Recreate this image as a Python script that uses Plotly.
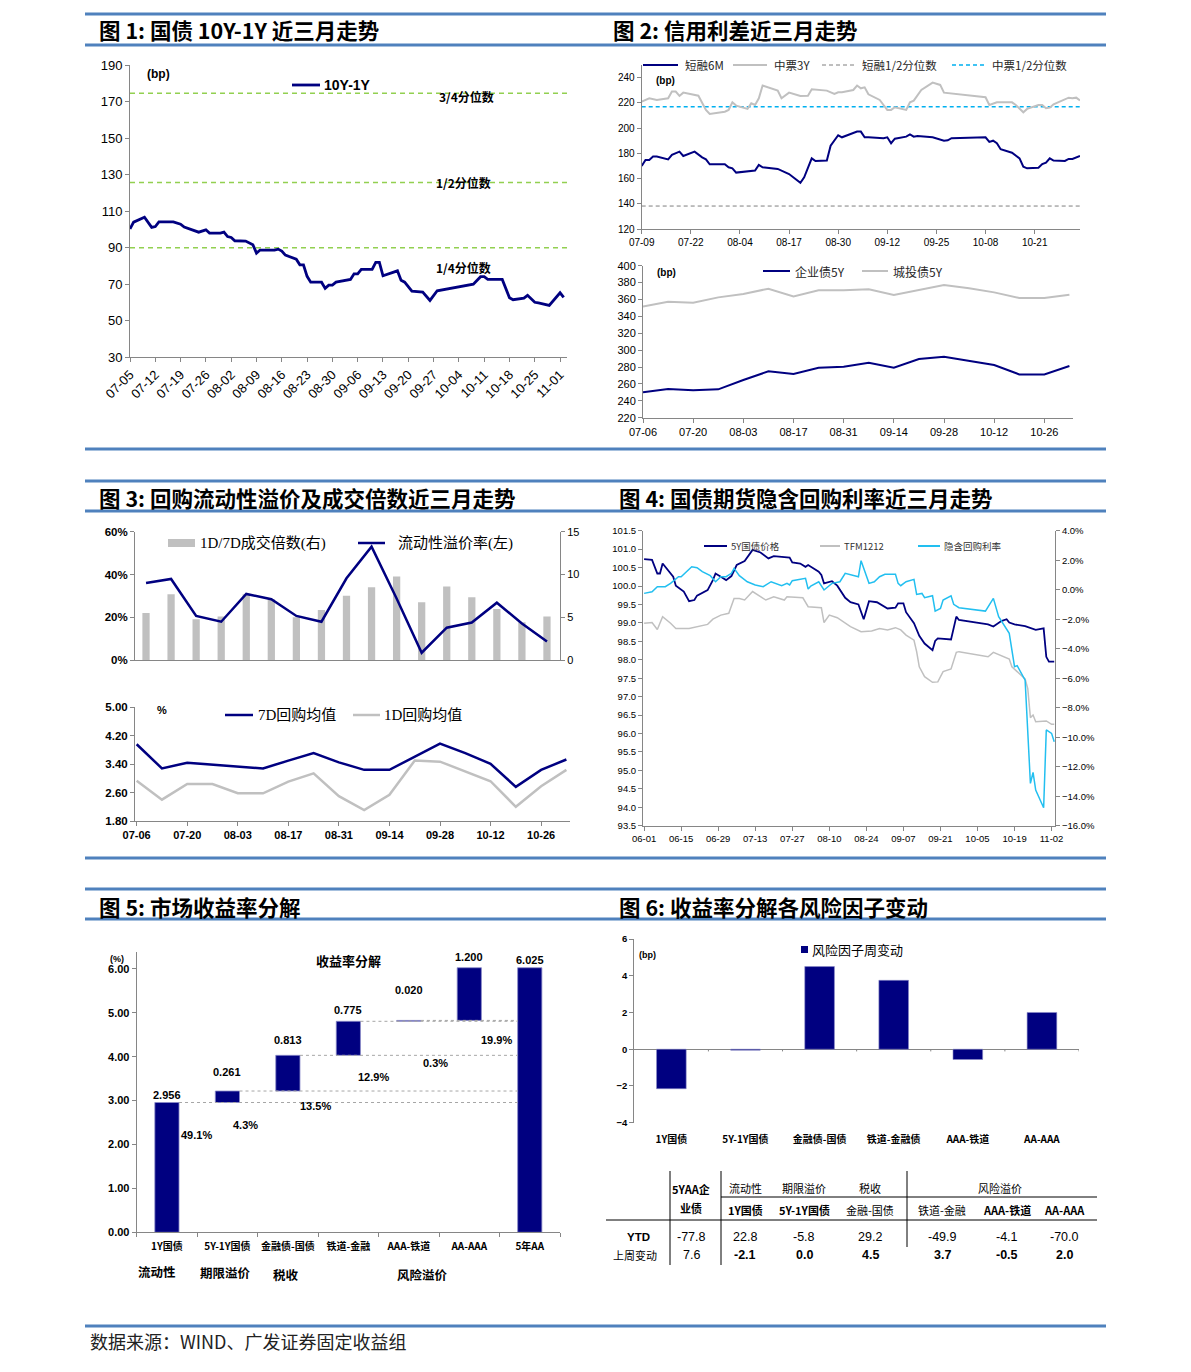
import plotly.graph_objects as go

# page is 1191x1372; the browser adds an 8px body margin, so the figure is 8px smaller
PAGE_W, PAGE_H = 1191, 1372
OFF = 8
W, H = PAGE_W - OFF, PAGE_H - OFF
YR = '2012-'
NAVY = '#000080'
GRAY = '#c0c0c0'
CYAN = '#22bff0'
GREEN = '#92d050'
AX = '#868686'
BLUE = '#4f81bd'
SANS = 'Liberation Sans, Arial, Noto Sans CJK SC'
NARROW = 'Liberation Sans Narrow, Liberation Sans, Arial, Noto Sans CJK SC'
CJK = 'Noto Sans CJK SC'
SERIF = 'Liberation Serif, Noto Sans CJK SC'

# ---------------- Chart 1 data ----------------
c1_dates = ['07-05', '07-06', '07-09', '07-11', '07-12', '07-13', '07-17', '07-19', '07-20', '07-24',
            '07-26', '07-27', '07-30', '07-31', '08-01', '08-02', '08-03', '08-06', '08-08', '08-09',
            '08-10', '08-14', '08-15', '08-16', '08-17', '08-20', '08-21', '08-22', '08-23', '08-24',
            '08-27', '08-28', '08-29', '08-30', '08-31', '09-04', '09-05', '09-06', '09-07', '09-10',
            '09-11', '09-12', '09-13', '09-17', '09-18', '09-19', '09-21', '09-24', '09-26', '09-28',
            '10-08', '10-10', '10-11', '10-12', '10-16', '10-18', '10-19', '10-22', '10-23', '10-25',
            '10-26', '10-29', '11-01', '11-02']
c1_vals = [100.2, 103.9, 106.6, 101.0, 101.5, 104.0, 104.0, 102.8, 101.2, 98.4,
           99.7, 97.9, 97.9, 98.4, 96.0, 95.5, 93.7, 93.5, 91.5, 86.9,
           88.6, 88.6, 89.1, 88.0, 85.8, 83.6, 80.5, 80.5, 74.2, 71.0,
           71.0, 67.6, 69.4, 69.4, 71.0, 72.5, 75.6, 75.6, 78.0, 78.0,
           81.8, 81.8, 74.5, 77.2, 72.0, 71.0, 66.1, 65.6, 61.0, 66.3,
           69.9, 74.0, 74.0, 72.5, 72.5, 62.5, 61.4, 62.3, 63.8, 60.0,
           59.6, 58.3, 65.2, 62.7]
c1_ticks = ['07-05', '07-12', '07-19', '07-26', '08-02', '08-09', '08-16', '08-23', '08-30',
            '09-06', '09-13', '09-20', '09-27', '10-04', '10-11', '10-18', '10-25', '11-01']
c1_q_vals = [174.5, 125.6, 89.8]
c1_q_labels = ['3/4分位数', '1/2分位数', '1/4分位数']

# ---------------- Chart 2 top data ----------------
c2a_d_6m = ['07-09', '07-10', '07-11', '07-12', '07-13', '07-16', '07-17', '07-19', '07-20', '07-23',
            '07-25', '07-26', '07-27', '07-31', '08-01', '08-02', '08-03', '08-08', '08-09', '08-10',
            '08-14', '08-16', '08-17', '08-20', '08-21', '08-23', '08-24', '08-27', '08-28', '08-30',
            '08-31', '09-04', '09-05', '09-06', '09-07', '09-11', '09-12', '09-13', '09-14', '09-17',
            '09-18', '09-19', '09-20', '09-24', '09-27', '09-28', '09-29', '10-08', '10-09', '10-10',
            '10-11', '10-12', '10-15', '10-17', '10-18', '10-19', '10-22', '10-23', '10-24', '10-25',
            '10-26', '10-29', '10-30', '10-31', '11-02']
c2a_6m = [170.0, 174.7, 174.7, 177.4, 177.4, 175.2, 178.7, 181.3, 177.9, 181.3,
          176.8, 175.2, 171.3, 171.3, 168.9, 168.1, 164.7, 166.3, 170.8, 168.9,
          167.6, 164.7, 163.6, 156.7, 161.0, 176.0, 173.9, 174.2, 186.0, 194.3,
          192.7, 197.2, 197.2, 192.7, 192.7, 191.9, 192.7, 188.0, 191.6, 193.2,
          195.0, 193.2, 193.7, 192.7, 190.0, 190.3, 192.0, 192.7, 189.0, 190.0,
          188.0, 183.2, 180.5, 176.0, 169.4, 168.1, 168.6, 171.5, 172.6, 176.0,
          174.2, 173.9, 175.5, 175.5, 177.9]
c2a_d_3y = ['07-09', '07-11', '07-13', '07-16', '07-17', '07-18', '07-19', '07-20', '07-24', '07-26',
            '07-27', '07-31', '08-01', '08-02', '08-03', '08-06', '08-07', '08-08', '08-09', '08-10',
            '08-14', '08-15', '08-17', '08-20', '08-22', '08-23', '08-27', '08-29', '08-30', '08-31',
            '09-03', '09-04', '09-05', '09-06', '09-07', '09-10', '09-11', '09-12', '09-13', '09-14',
            '09-17', '09-18', '09-19', '09-21', '09-24', '09-26', '09-27', '10-08', '10-09', '10-11',
            '10-15', '10-16', '10-18', '10-19', '10-22', '10-23', '10-24', '10-25', '10-26', '10-30',
            '10-31', '11-01', '11-02']
c2a_3y = [221.0, 223.6, 222.3, 223.6, 228.9, 228.9, 225.5, 228.1, 225.7, 214.4,
          211.2, 213.0, 214.4, 220.4, 217.8, 215.2, 219.6, 218.3, 223.6, 233.7,
          229.7, 223.6, 228.1, 225.5, 225.7, 230.7, 229.7, 227.0, 228.4, 228.4,
          230.2, 233.7, 231.5, 232.3, 226.8, 222.3, 218.3, 214.4, 214.4, 216.5,
          214.4, 220.4, 221.8, 230.2, 236.0, 234.2, 228.1, 224.4, 218.3, 220.4,
          220.4, 218.3, 212.5, 215.2, 218.3, 218.3, 215.7, 216.2, 218.9, 224.1,
          223.6, 224.1, 221.8]
c2a_q_6m = 138.2
c2a_q_3y = 217.0
c2a_ticks = ['07-09', '07-22', '08-04', '08-17', '08-30', '09-12', '09-25', '10-08', '10-21']
c2a_names = ['短融6M', '中票3Y', '短融1/2分位数', '中票1/2分位数']

# ---------------- Chart 2 bottom data ----------------
wk_dates = ['07-06', '07-13', '07-20', '07-27', '08-03', '08-10', '08-17', '08-24', '08-31',
            '09-07', '09-14', '09-21', '09-28', '10-05', '10-12', '10-19', '10-26', '11-02']
c2b_corp = [250.0, 254.0, 252.4, 253.6, 264.6, 274.9, 271.7, 279.2, 280.4,
            285.1, 279.2, 289.5, 292.2, 287.1, 282.4, 271.3, 271.3, 281.2]
c2b_city = [351.8, 357.4, 356.2, 362.5, 366.4, 372.8, 363.7, 370.8, 370.8,
            372.0, 365.3, 371.2, 377.1, 373.2, 368.4, 361.7, 361.7, 365.7]
c2b_ticks = ['07-06', '07-20', '08-03', '08-17', '08-31', '09-14', '09-28', '10-12', '10-26']
c2b_names = ['企业债5Y', '城投债5Y']

# ---------------- Chart 3 top data ----------------
c3a_bar = [5.5, 7.7, 4.75, 5.1, 7.7, 7.1, 5.0, 5.85, 7.5, 8.5, 9.75, 6.75, 8.6, 7.35, 5.95, 4.4, 5.1]
c3a_line = [36.0, 37.9, 20.6, 17.9, 30.9, 28.4, 20.6, 17.9, 38.2, 53.0, 28.8, 3.4, 15.1, 17.5, 26.8, 17.1, 8.6]
c3a_names = ['1D/7D成交倍数(右)', '流动性溢价率(左)']

# ---------------- Chart 3 bottom data ----------------
c3b_7d = [3.96, 3.28, 3.44, 3.38, 3.34, 3.28, 3.50, 3.71, 3.45, 3.24, 3.24, 3.61, 3.98, 3.71, 3.41, 2.76, 3.24, 3.53]
c3b_1d = [2.93, 2.40, 2.84, 2.84, 2.58, 2.58, 2.91, 3.14, 2.50, 2.11, 2.54, 3.50, 3.47, 3.19, 2.92, 2.20, 2.78, 3.24]
c3b_names = ['7D回购均值', '1D回购均值']

# ---------------- Chart 4 data ----------------
c4_d_5y = ['06-01', '06-04', '06-06', '06-07', '06-08', '06-11', '06-12', '06-13', '06-14', '06-16',
           '06-18', '06-20', '06-21', '06-25', '06-27', '06-28', '06-30', '07-02', '07-04', '07-06',
           '07-09', '07-12', '07-15', '07-18', '07-20', '07-26', '07-27', '07-30', '08-01', '08-02',
           '08-06', '08-07', '08-08', '08-11', '08-13', '08-16', '08-18', '08-21', '08-23', '08-25',
           '08-28', '08-30', '09-01', '09-04', '09-05', '09-07', '09-08', '09-11', '09-13', '09-15',
           '09-18', '09-19', '09-20', '09-25', '09-27', '09-28', '10-09', '10-11', '10-14', '10-16',
           '10-17', '10-19', '10-23', '10-27', '10-30', '10-31', '11-01', '11-03']
c4_5y = [100.73, 100.71, 100.34, 100.34, 100.61, 100.34, 100.25, 100.01, 99.95, 99.85,
         99.59, 99.62, 99.74, 99.89, 100.16, 100.34, 100.25, 100.16, 100.27, 100.57,
         100.68, 100.98, 100.91, 100.75, 100.81, 100.77, 100.64, 100.61, 100.52, 100.57,
         100.39, 100.30, 100.07, 100.13, 100.01, 99.68, 99.56, 99.50, 99.10, 99.59,
         99.56, 99.48, 99.39, 99.41, 99.53, 99.53, 99.29, 98.99, 98.65, 98.44,
         98.26, 98.51, 98.58, 98.55, 99.17, 99.08, 98.96, 98.90, 99.05, 99.10,
         99.01, 98.96, 98.91, 98.81, 98.85, 98.08, 97.95, 97.95]
c4_d_tf = ['06-01', '06-04', '06-06', '06-08', '06-11', '06-13', '06-18', '06-21', '06-25', '06-27',
           '06-30', '07-03', '07-05', '07-07', '07-09', '07-12', '07-17', '07-20', '07-24', '07-25',
           '07-31', '08-02', '08-07', '08-08', '08-10', '08-13', '08-16', '08-18', '08-22', '08-26',
           '08-29', '09-01', '09-04', '09-06', '09-08', '09-11', '09-12', '09-13', '09-15', '09-18',
           '09-20', '09-22', '09-25', '09-27', '09-28', '10-09', '10-11', '10-17', '10-18', '10-23',
           '10-24', '10-25', '10-26', '10-27', '10-31', '11-02', '11-03']
c4_tf = [98.99, 99.01, 98.82, 99.17, 98.99, 98.85, 98.85, 98.90, 98.96, 99.10,
         99.21, 99.26, 99.66, 99.66, 99.62, 99.85, 99.62, 99.71, 99.62, 99.71,
         99.68, 99.44, 99.41, 99.01, 99.21, 99.14, 99.01, 98.90, 98.76, 98.78,
         98.85, 98.81, 98.87, 98.81, 98.67, 98.53, 98.22, 97.81, 97.54, 97.39,
         97.40, 97.68, 97.75, 98.20, 98.22, 98.08, 98.20, 98.02, 97.81, 97.48,
         97.22, 96.43, 96.50, 96.32, 96.34, 96.25, 96.25]
c4_d_irr = ['06-01', '06-04', '06-06', '06-09', '06-11', '06-14', '06-15', '06-19', '06-21', '06-23',
            '06-26', '06-28', '06-30', '07-02', '07-04', '07-05', '07-07', '07-10', '07-13', '07-16',
            '07-19', '07-23', '07-25', '07-26', '07-27', '07-31', '08-01', '08-02', '08-03', '08-06',
            '08-08', '08-11', '08-14', '08-16', '08-21', '08-22', '08-25', '08-27', '08-29', '08-31',
            '09-04', '09-05', '09-06', '09-08', '09-11', '09-12', '09-14', '09-15', '09-18', '09-19',
            '09-21', '09-22', '09-25', '09-26', '09-28', '10-08', '10-11', '10-13', '10-15', '10-17',
            '10-19', '10-20', '10-23', '10-25', '10-26', '10-27', '10-30', '10-31', '11-02', '11-03']
c4_irr = [-0.25, -0.14, 0.20, 0.20, 0.43, 0.88, 0.88, 1.56, 1.49, 1.22,
          0.95, 0.54, 0.88, 0.88, 1.11, 1.45, 0.95, 0.54, 0.32, 0.20,
          0.54, 0.27, 0.43, 0.32, 0.61, 0.70, 0.77, 0.04, 0.25, 0.54,
          -0.02, 0.43, 0.54, 1.11, 0.88, 1.97, 0.43, 0.54, 0.88, 1.04,
          1.04, 0.43, 0.27, 0.54, 0.70, -0.32, -0.25, -0.54, -0.41, -1.45,
          -1.27, -0.70, -0.41, -0.99, -1.22, -1.45, -0.59, -1.83, -2.40, -2.96,
          -5.22, -5.15, -6.13, -13.13, -12.39, -13.58, -14.78, -9.51, -9.74, -10.31]
c4_ticks = ['06-01', '06-15', '06-29', '07-13', '07-27', '08-10', '08-24', '09-07', '09-21',
            '10-05', '10-19', '11-02']
c4_names = ['5Y国债价格', 'TFM1212', '隐含回购利率']

# ---------------- Chart 5 data ----------------
c5_cats = ['1Y国债', '5Y-1Y国债', '金融债-国债', '铁道-金融', 'AAA-铁道', 'AA-AAA', '5年AA']
c5_incr = [2.956, 0.261, 0.813, 0.775, 0.020, 1.200]
c5_groups = ['流动性', '期限溢价', '税收', '风险溢价']

# ---------------- Chart 6 data ----------------
c6_cats = ['1Y国债', '5Y-1Y国债', '金融债-国债', '铁道-金融债', 'AAA-铁道', 'AA-AAA']
c6_vals = [-2.15, -0.05, 4.5, 3.75, -0.56, 2.0]

# ---------------- Table data ----------------
tb_head1 = ['流动性', '期限溢价', '税收', '风险溢价']
tb_head2 = ['1Y国债', '5Y-1Y国债', '金融-国债', '铁道-金融', 'AAA-铁道', 'AA-AAA']
tb_rows = ['YTD', '上周变动']
tb_ytd = [-77.8, 22.8, -5.8, 29.2, -49.9, -4.1, -70.0]
tb_week = [7.6, -2.1, 0.0, 4.5, 3.7, -0.5, 2.0]

titles = ['图 1: 国债 10Y-1Y 近三月走势', '图 2: 信用利差近三月走势',
          '图 3: 回购流动性溢价及成交倍数近三月走势', '图 4: 国债期货隐含回购利率近三月走势',
          '图 5: 市场收益率分解', '图 6: 收益率分解各风险因子变动']
source = '数据来源：WIND、广发证券固定收益组'


# ---------------- helpers (page pixel -> paper) ----------------
def px_x(p):
    return (p - OFF) / W


def px_y(p):
    return 1 - (p - OFF) / H


def dom_x(a, b):
    return [px_x(a), px_x(b)]


def dom_y(top, bot):
    return [px_y(bot), px_y(top)]


def dts(lst):
    return [YR + s for s in lst]


shapes = []
anns = []


def pline(x0, y0, x1, y1, color, width, dash='solid'):
    shapes.append(dict(type='line', xref='paper', yref='paper', x0=px_x(x0), y0=px_y(y0),
                       x1=px_x(x1), y1=px_y(y1), line=dict(color=color, width=width, dash=dash)))


def prect(x0, y0, x1, y1, color):
    shapes.append(dict(type='rect', xref='paper', yref='paper', x0=px_x(x0), y0=px_y(y1),
                       x1=px_x(x1), y1=px_y(y0), fillcolor=color, line=dict(width=0)))


def text(s, x, y, size, family=CJK, bold=False, color='black', xanchor='center', yanchor='middle'):
    anns.append(dict(text=('<b>%s</b>' % s) if bold else s, x=px_x(x), y=px_y(y), xref='paper',
                     yref='paper', showarrow=False, xanchor=xanchor, yanchor=yanchor,
                     font=dict(size=size, family=family, color=color)))


def axis(**kw):
    d = dict(showline=True, linecolor=AX, linewidth=1, ticks='outside', tickcolor=AX, ticklen=4,
             showgrid=False, zeroline=False, fixedrange=True, automargin=False)
    d.update(kw)
    return d


def tf(size, family=SANS, bold=False):
    return dict(size=size, family=family, color='black', weight='bold' if bold else 'normal')


fig = go.Figure()
L = dict(width=W, height=H, margin=dict(l=0, r=0, t=0, b=0, pad=0, autoexpand=False),
         paper_bgcolor='white', plot_bgcolor='rgba(0,0,0,0)', showlegend=False)

# ---------------- frame: section lines, titles, source ----------------
for yy in [14, 45, 449, 481, 511, 858, 889, 919, 1326]:
    pline(85, yy, 1106, yy, BLUE, 3)
title_pos = [(97, 30), (611, 30), (97, 497), (617, 497), (97, 906), (617, 906)]
for t, (tx, ty) in zip(titles, title_pos):
    text(t, tx, ty, 21.5, bold=True, xanchor='left')
text(source, 88, 1341, 18, color='#222222', xanchor='left')

# ---------------- Chart 1 ----------------
c1_range = [YR + '07-05', YR + '11-02 22:00']
L['xaxis'] = axis(domain=dom_x(130, 567), anchor='y', type='date', range=c1_range,
                  tickvals=dts(c1_ticks), ticktext=c1_ticks, tickangle=-45, tickfont=tf(13, NARROW))
L['yaxis'] = axis(domain=dom_y(65, 357), anchor='x', range=[30, 190], tick0=30, dtick=20,
                  tickfont=tf(13, NARROW))
for v in c1_q_vals:
    fig.add_trace(go.Scatter(x=c1_range, y=[v, v], mode='lines', xaxis='x', yaxis='y',
                             line=dict(color=GREEN, width=1.5, dash='5px,4px'), hoverinfo='skip'))
fig.add_trace(go.Scatter(x=dts(c1_dates), y=c1_vals, mode='lines', xaxis='x', yaxis='y',
                         line=dict(color=NAVY, width=2.8), name='10Y-1Y'))
text('(bp)', 145, 74, 12, SANS, bold=True, xanchor='left')
pline(292, 85, 320, 85, NAVY, 2.8)
text('10Y-1Y', 322, 85, 14, NARROW, bold=True, xanchor='left')
for lab, (lx, ly) in zip(c1_q_labels, [(466, 97), (463, 182), (463, 267)]):
    text(lab, lx, ly, 12, CJK, bold=True)

# ---------------- Chart 2 top ----------------
c2a_range = [YR + '07-09', YR + '11-02']
L['xaxis2'] = axis(domain=dom_x(641.7, 1080), anchor='y2', type='date', range=c2a_range,
                   tickvals=dts(c2a_ticks), ticktext=c2a_ticks, tickfont=tf(10))
L['yaxis2'] = axis(domain=dom_y(65, 229), anchor='x2', range=[120, 250], tick0=120, dtick=20,
                   tickfont=tf(10))
fig.add_trace(go.Scatter(x=c2a_range, y=[c2a_q_6m] * 2, mode='lines', xaxis='x2', yaxis='y2',
                         line=dict(color='#7f7f7f', width=1, dash='4px,3px')))
fig.add_trace(go.Scatter(x=c2a_range, y=[c2a_q_3y] * 2, mode='lines', xaxis='x2', yaxis='y2',
                         line=dict(color='#00b0f0', width=1.5, dash='4px,3px')))
fig.add_trace(go.Scatter(x=dts(c2a_d_3y), y=c2a_3y, mode='lines', xaxis='x2', yaxis='y2',
                         line=dict(color=GRAY, width=2)))
fig.add_trace(go.Scatter(x=dts(c2a_d_6m), y=c2a_6m, mode='lines', xaxis='x2', yaxis='y2',
                         line=dict(color=NAVY, width=2)))
text('(bp)', 654, 81, 10, SANS, bold=True, xanchor='left')
leg2 = [(643, 678, NAVY, 2, 'solid'), (733, 767, GRAY, 2, 'solid'),
        (822, 855, '#7f7f7f', 1, '4px,3px'), (952, 985, '#00b0f0', 1.5, '4px,3px')]
for nm, (a, b, c, w_, d_) in zip(c2a_names, leg2):
    pline(a, 65, b, 65, c, w_, d_)
    text(nm, b + 5, 65, 11.5, CJK, color='#262626', xanchor='left')

# ---------------- Chart 2 bottom ----------------
c2b_range = [YR + '07-06', YR + '11-03']
L['xaxis3'] = axis(domain=dom_x(643, 1073), anchor='y3', type='date', range=c2b_range,
                   tickvals=dts(c2b_ticks), ticktext=c2b_ticks, tickfont=tf(11))
L['yaxis3'] = axis(domain=dom_y(265.7, 417.7), anchor='x3', range=[220, 400], tick0=220, dtick=20,
                   tickfont=tf(11))
fig.add_trace(go.Scatter(x=dts(wk_dates), y=c2b_city, mode='lines', xaxis='x3', yaxis='y3',
                         line=dict(color=GRAY, width=2)))
fig.add_trace(go.Scatter(x=dts(wk_dates), y=c2b_corp, mode='lines', xaxis='x3', yaxis='y3',
                         line=dict(color=NAVY, width=2)))
text('(bp)', 655, 272, 10, SANS, bold=True, xanchor='left')
for nm, (a, b, c) in zip(c2b_names, [(763, 790, NAVY), (862, 888, GRAY)]):
    pline(a, 271, b, 271, c, 2)
    text(nm, b + 3, 271, 12, CJK, color='#262626', xanchor='left')

# ---------------- Chart 3 top ----------------
idx = list(range(len(c3a_bar)))
L['xaxis4'] = axis(domain=dom_x(135, 560), anchor='y4', range=[-0.44, 16.52], showticklabels=False,
                   ticks='')
L['yaxis4'] = axis(domain=dom_y(531.7, 660), anchor='x4', side='right', range=[0, 15], dtick=5,
                   tickfont=tf(11))
L['yaxis5'] = axis(overlaying='y4', anchor='x4', side='left', range=[0, 60], dtick=20,
                   ticksuffix='%', tickfont=tf(11.5, bold=True))
fig.add_trace(go.Bar(x=idx, y=c3a_bar, xaxis='x4', yaxis='y4', width=0.29,
                     marker=dict(color=GRAY, line=dict(width=0))))
fig.add_trace(go.Scatter(x=idx, y=c3a_line, mode='lines', xaxis='x4', yaxis='y5',
                         line=dict(color=NAVY, width=2.5)))
prect(168, 539, 195, 547, GRAY)
text(c3a_names[0], 198, 543, 15, SERIF, xanchor='left')
pline(358, 543, 385, 543, NAVY, 2.5)
text(c3a_names[1], 396, 543, 15, SERIF, xanchor='left')

# ---------------- Chart 3 bottom ----------------
c3b_range = [YR + '07-05 13:00', YR + '11-03']
L['xaxis5'] = axis(domain=dom_x(135, 570), anchor='y6', type='date', range=c3b_range,
                   tickvals=dts(c2b_ticks), ticktext=c2b_ticks, tickfont=tf(11, bold=True))
L['yaxis6'] = axis(domain=dom_y(707.3, 821), anchor='x5', range=[1.8, 5.0], tick0=1.8, dtick=0.8,
                   tickformat='.2f', tickfont=tf(11.5, bold=True))
fig.add_trace(go.Scatter(x=dts(wk_dates), y=c3b_1d, mode='lines', xaxis='x5', yaxis='y6',
                         line=dict(color=GRAY, width=2.5)))
fig.add_trace(go.Scatter(x=dts(wk_dates), y=c3b_7d, mode='lines', xaxis='x5', yaxis='y6',
                         line=dict(color=NAVY, width=2.5)))
text('%', 155, 710, 11, SANS, bold=True, xanchor='left')
pline(225, 715, 253, 715, NAVY, 2.5)
text(c3b_names[0], 256, 715, 15, SERIF, xanchor='left')
pline(353, 715, 380, 715, GRAY, 2.5)
text(c3b_names[1], 382, 715, 15, SERIF, xanchor='left')

# ---------------- Chart 4 ----------------
c4_range = [YR + '05-31 14:00', YR + '11-03 07:00']
L['xaxis6'] = axis(domain=dom_x(643, 1055), anchor='y7', type='date', range=c4_range,
                   tickvals=dts(c4_ticks), ticktext=c4_ticks, tickfont=tf(9.5))
L['yaxis7'] = axis(domain=dom_y(530.7, 825.7), anchor='x6', range=[93.5, 101.5], tick0=93.5,
                   dtick=0.5, tickformat='.1f', tickfont=tf(9.5))
L['yaxis8'] = axis(overlaying='y7', anchor='x6', side='right', range=[-16, 4], tick0=-16, dtick=2,
                   tickformat='.1f', ticksuffix='%', tickfont=tf(9.5))
fig.add_trace(go.Scatter(x=dts(c4_d_tf), y=c4_tf, mode='lines', xaxis='x6', yaxis='y7',
                         line=dict(color=GRAY, width=1.5)))
fig.add_trace(go.Scatter(x=dts(c4_d_5y), y=c4_5y, mode='lines', xaxis='x6', yaxis='y7',
                         line=dict(color=NAVY, width=1.8)))
fig.add_trace(go.Scatter(x=dts(c4_d_irr), y=c4_irr, mode='lines', xaxis='x6', yaxis='y8',
                         line=dict(color=CYAN, width=1.5)))
for nm, (a, b, c) in zip(c4_names, [(704, 727, NAVY), (820, 840, GRAY), (918, 940, CYAN)]):
    pline(a, 546, b, 546, c, 2)
    text(nm, b + 2, 546, 9.5, CJK, color='#333333', xanchor='left')

# ---------------- Chart 5 ----------------
cum = []
s = 0.0
for v in c5_incr:
    s += v
    cum.append(s)
total = cum[-1]
bases = [0.0] + cum[:-1] + [0.0]
heights = c5_incr + [total]
L['xaxis7'] = axis(domain=dom_x(136.7, 560), anchor='y9', type='category', range=[-0.5, 6.5],
                   tickson='boundaries', tickangle=0, ticklabelstandoff=5,
                   tickfont=tf(10, CJK, bold=True))
L['yaxis9'] = axis(domain=dom_y(951.7, 1232.3), anchor='x7', range=[0, 6.39],
                   tickvals=[0, 1, 2, 3, 4, 5, 6], tickformat='.2f', tickfont=tf(11, bold=True))
for i in range(len(c5_incr) - 1):
    shapes.append(dict(type='line', xref='x7', yref='y9', x0=i + 0.2, x1=len(c5_cats) - 1.2,
                       y0=cum[i], y1=cum[i], line=dict(color='#a6a6a6', width=1, dash='dot')))
fig.add_trace(go.Bar(x=c5_cats, y=heights, base=bases, xaxis='x7', yaxis='y9', width=0.4,
                     marker=dict(color=NAVY, line=dict(color='#8a8ac8', width=0.8))))
val_shift = [5.5, 17, 13, 9, 28, 8.5, 6]
for i, (cat, h, b) in enumerate(zip(c5_cats, heights, bases)):
    anns.append(dict(text='<b>%.3f</b>' % h, x=cat, y=b + h, xref='x7', yref='y9', showarrow=False,
                     yanchor='bottom', yshift=val_shift[i] - 6, font=dict(size=11, family=SANS, color='black')))
pct_shift = [(29.7, -32.8), (18.3, -33.9), (27.3, -50.3), (25, -55.9), (26.4, -42.8), (27.3, -72.5)]
for i, v in enumerate(c5_incr):
    dxs, dys = pct_shift[i]
    anns.append(dict(text='<b>%.1f%%</b>' % (v / total * 100), x=c5_cats[i], y=cum[i], xref='x7',
                     yref='y9', showarrow=False, xshift=dxs, yshift=dys,
                     font=dict(size=11, family=SANS, color='black')))
text('(%)', 117, 959, 9, SANS, bold=True)
text('收益率分解', 348, 960, 13, CJK, bold=True)
for g, (gx, gy) in zip(c5_groups, [(157, 1271), (225, 1272), (286, 1274), (422, 1274)]):
    text(g, gx, gy, 12.5, CJK, bold=True)

# ---------------- Chart 6 ----------------
L['xaxis8'] = axis(domain=dom_x(634.3, 1079), anchor='y10', type='category', range=[-0.5, 5.5],
                   showline=False, ticks='', tickangle=0, ticklabelstandoff=9,
                   tickfont=tf(10, CJK, bold=True))
L['yaxis10'] = axis(domain=dom_y(939, 1122.7), anchor='x8', range=[-4, 6], dtick=2,
                    zeroline=True, zerolinecolor=AX, zerolinewidth=1, tickfont=tf(9.5, bold=True))
fig.add_trace(go.Bar(x=c6_cats, y=c6_vals, xaxis='x8', yaxis='y10', width=0.4,
                     marker=dict(color=NAVY, line=dict(color='#8a8ac8', width=0.6))))
for k in range(len(c6_cats)):
    shapes.append(dict(type='line', xref='x8', yref='y10', x0=k + 0.5, x1=k + 0.5, y0=0, y1=-0.12,
                       line=dict(color=AX, width=1)))
text('(bp)', 637, 955, 9, SANS, bold=True, xanchor='left')
prect(801, 946, 808, 953, NAVY)
text('风险因子周变动', 810, 949, 13, CJK, xanchor='left')

# ---------------- Table ----------------
pline(670, 1171, 670, 1265, 'black', 1)
pline(721, 1171, 721, 1265, 'black', 1)
pline(907, 1171, 907, 1247, 'black', 1)
pline(721, 1197, 1097, 1197, 'black', 1)
pline(606, 1220, 1097, 1220, 'black', 1)
text('5YAA企', 691, 1189, 11, CJK, bold=True)
text('业债', 691, 1208, 11, CJK, bold=True)
for h1, hx in zip(tb_head1, [745, 804, 870, 1000]):
    text(h1, hx, 1188, 11, CJK)
col_x = [691, 745, 804, 870, 942, 1006.7, 1064]
head2_bold = [True, True, False, False, True, True]
for h2, hx, hb in zip(tb_head2, col_x[1:], head2_bold):
    text(h2, hx, 1209.5, 11, CJK, bold=hb)
text(tb_rows[0], 638, 1236.7, 11.5, SANS, bold=True)
text(tb_rows[1], 635, 1255, 11, CJK)
for v, cx in zip(tb_ytd, col_x):
    text('%.1f' % v, cx, 1236.7, 12.5, NARROW)
for k, (v, cx) in enumerate(zip(tb_week, col_x)):
    text('%.1f' % v, cx, 1255, 12.5, NARROW, bold=(k > 0))

L['shapes'] = shapes
L['annotations'] = anns
fig.update_layout(**L)
fig.write_html('out.html')
